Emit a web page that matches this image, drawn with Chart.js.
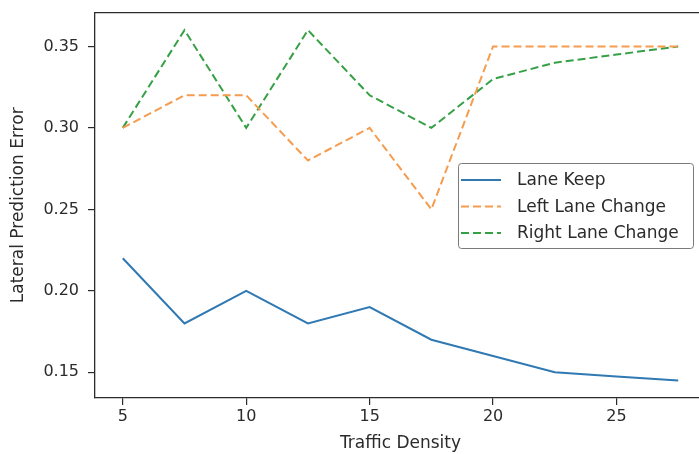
<!DOCTYPE html>
<html>
<head>
<meta charset="utf-8">
<script src="https://cdn.jsdelivr.net/npm/chart.js@4"></script>
<style>
  html, body { margin: 0; padding: 0; background: #fff; overflow: hidden; }
  #wrap { width: 707px; height: 460px; margin-top: -6px; }
</style>
</head>
<body>
<div id="wrap"><canvas id="myChart"></canvas></div>
<script>
const density = [5, 7.5, 10, 12.5, 15, 17.5, 20, 22.5, 25, 27.5];
const laneKeep = [0.22, 0.18, 0.20, 0.18, 0.19, 0.17, 0.16, 0.15, 0.1475, 0.145];
const leftChange = [0.30, 0.32, 0.32, 0.28, 0.30, 0.25, 0.35, 0.35, 0.35, 0.35];
const rightChange = [0.30, 0.36, 0.30, 0.36, 0.32, 0.30, 0.33, 0.34, 0.345, 0.35];
const xTicks = [5, 10, 15, 20, 25];
const yTicks = [0.15, 0.20, 0.25, 0.30, 0.35];

const tickFont = { family: 'DejaVu Sans', size: 16 };
const labelFont = { family: 'DejaVu Sans', size: 17 };
const ink = '#2b2b2b';

function pts(ys) {
    return density.map((x, i) => ({ x: x, y: ys[i] }));
}

// matplotlib-like legend box inside the axes (canvas is shifted up 6px)
const boxLegend = {
    id: 'boxLegend',
    afterDraw(chart) {
        const ctx = chart.ctx;
        const x0 = 458, y0 = 169, w = 235, h = 85;
        ctx.save();
        ctx.fillStyle = 'rgba(255,255,255,0.9)';
        ctx.strokeStyle = '#7a7a7a';
        ctx.lineWidth = 1;
        ctx.beginPath();
        ctx.roundRect(x0 + 0.5, y0 + 0.5, w, h, 3);
        ctx.fill();
        ctx.stroke();
        ctx.font = labelFont.size + 'px ' + labelFont.family;
        ctx.textBaseline = 'middle';
        chart.data.datasets.forEach((ds, i) => {
            const y = y0 + 17 + i * 26.5;
            ctx.strokeStyle = ds.borderColor;
            ctx.lineWidth = ds.borderWidth;
            ctx.setLineDash(ds.borderDash || []);
            ctx.beginPath();
            ctx.moveTo(461, y);
            ctx.lineTo(501, y);
            ctx.stroke();
            ctx.setLineDash([]);
            ctx.fillStyle = ink;
            ctx.fillText(ds.label, 517, y + 1);
        });
        ctx.restore();
    }
};

// top frame line (left/bottom come from the axes)
const topFrame = {
    id: 'topFrame',
    afterDraw(chart) {
        const a = chart.chartArea, ctx = chart.ctx;
        ctx.save();
        ctx.strokeStyle = ink;
        ctx.lineWidth = 1.3;
        ctx.beginPath();
        ctx.moveTo(a.left, a.top);
        ctx.lineTo(a.right, a.top);
        ctx.stroke();
        ctx.restore();
    }
};

const config = {
    type: 'line',
    data: {
        datasets: [{
            label: 'Lane Keep',
            data: pts(laneKeep),
            borderColor: '#3079b3',
            borderWidth: 2
        }, {
            label: 'Left Lane Change',
            data: pts(leftChange),
            borderColor: '#f59c4f',
            borderWidth: 2,
            borderDash: [8, 4]
        }, {
            label: 'Right Lane Change',
            data: pts(rightChange),
            borderColor: '#35a045',
            borderWidth: 2,
            borderDash: [8, 4]
        }]
    },
    options: {
        responsive: true,
        maintainAspectRatio: false,
        animation: false,
        events: [],
        elements: { point: { radius: 0 }, line: { tension: 0 } },
        layout: { padding: { left: 0, right: 1, top: 12, bottom: 0 } },
        plugins: { legend: { display: false }, tooltip: { enabled: false } },
        scales: {
            x: {
                type: 'linear',
                min: 3.875,
                max: 28.625,
                afterBuildTicks: s => { s.ticks = xTicks.map(v => ({ value: v })); },
                afterFit: s => { s.height = 56; },
                grid: { display: true, drawOnChartArea: false, drawTicks: true, tickLength: 7, color: ink, lineWidth: 1.2 },
                border: { display: true, color: ink, width: 1.3 },
                ticks: { color: ink, font: tickFont, padding: 2, maxRotation: 0 },
                title: { display: true, text: 'Traffic Density', color: ink, font: labelFont, padding: { top: 0, bottom: 0 } }
            },
            y: {
                type: 'linear',
                min: 0.13425,
                max: 0.37075,
                afterBuildTicks: s => { s.ticks = yTicks.map(v => ({ value: v })); },
                afterFit: s => { s.width = 95; },
                grid: { display: true, drawOnChartArea: false, drawTicks: true, tickLength: 7, color: ink, lineWidth: 1.2 },
                border: { display: true, color: ink, width: 1.3 },
                ticks: { color: ink, font: tickFont, padding: 9, callback: v => v.toFixed(2) },
                title: { display: true, text: 'Lateral Prediction Error', color: ink, font: labelFont, padding: { top: 8, bottom: 0 } }
            }
        }
    },
    plugins: [topFrame, boxLegend]
};

const myChart = new Chart(document.getElementById('myChart'), config);
</script>
</body>
</html>
